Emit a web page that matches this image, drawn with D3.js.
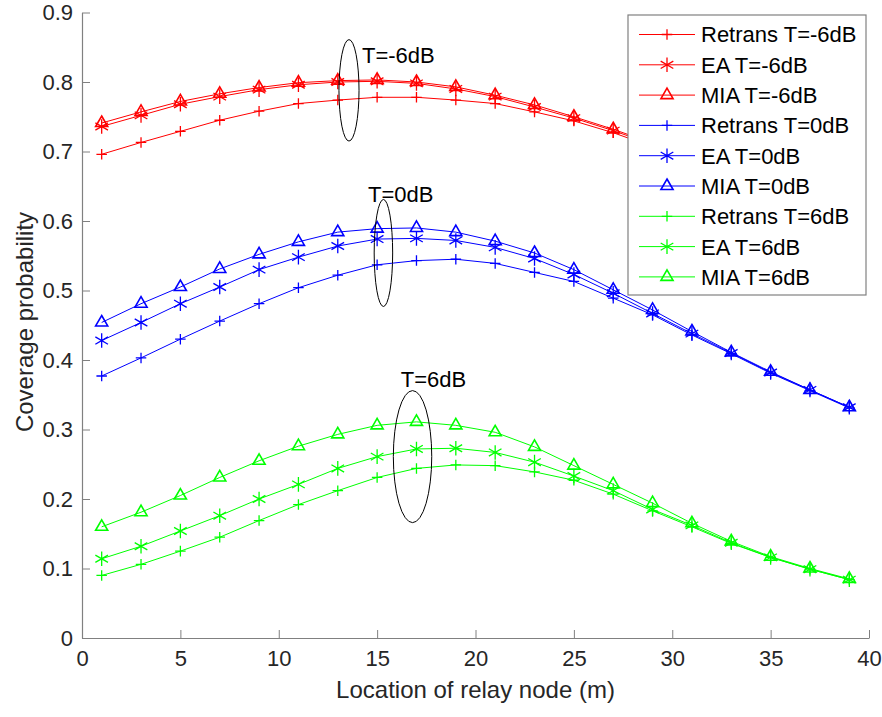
<!DOCTYPE html>
<html>
<head>
<meta charset="utf-8">
<script src="https://cdn.jsdelivr.net/npm/d3@7"></script>
<style>
  body { margin: 0; background: #fff; }
  text { font-family: Arial, "Liberation Sans", Helvetica, sans-serif; }
</style>
</head>
<body>
<svg id="chart" width="882" height="717"></svg>
<script>
// relay locations (m)
const relayX = [1, 3, 5, 7, 9, 11, 13, 15, 17, 19, 21, 23, 25, 27, 29, 31, 33, 35, 37, 39];

// T = -6dB
const retransM6 = [0.696, 0.713, 0.729, 0.745, 0.758, 0.769, 0.774, 0.778, 0.778, 0.774, 0.769, 0.757, 0.744, 0.727, 0.707, 0.685, 0.660, 0.634, 0.607, 0.580];
const eaM6 = [0.736, 0.752, 0.768, 0.779, 0.789, 0.796, 0.800, 0.801, 0.798, 0.790, 0.779, 0.764, 0.748, 0.730, 0.710, 0.688, 0.664, 0.638, 0.611, 0.584];
const miaM6 = [0.741, 0.757, 0.772, 0.783, 0.792, 0.799, 0.802, 0.803, 0.800, 0.793, 0.781, 0.767, 0.750, 0.732, 0.712, 0.690, 0.666, 0.640, 0.613, 0.585];

// T = 0dB
const retrans0 = [0.377, 0.403, 0.430, 0.456, 0.481, 0.504, 0.522, 0.537, 0.543, 0.545, 0.539, 0.526, 0.513, 0.489, 0.465, 0.436, 0.409, 0.381, 0.356, 0.331];
const ea0 = [0.428, 0.454, 0.481, 0.505, 0.530, 0.548, 0.564, 0.574, 0.575, 0.572, 0.562, 0.546, 0.523, 0.496, 0.467, 0.438, 0.410, 0.382, 0.357, 0.332];
const mia0 = [0.454, 0.481, 0.505, 0.531, 0.552, 0.570, 0.584, 0.589, 0.590, 0.584, 0.571, 0.554, 0.530, 0.501, 0.472, 0.441, 0.411, 0.383, 0.357, 0.332];

// T = 6dB
const retrans6 = [0.090, 0.106, 0.125, 0.145, 0.169, 0.192, 0.212, 0.231, 0.244, 0.249, 0.248, 0.239, 0.227, 0.207, 0.183, 0.160, 0.136, 0.116, 0.099, 0.084];
const ea6 = [0.114, 0.132, 0.154, 0.176, 0.200, 0.221, 0.244, 0.261, 0.272, 0.273, 0.267, 0.253, 0.233, 0.212, 0.185, 0.162, 0.137, 0.116, 0.099, 0.084];
const mia6 = [0.160, 0.181, 0.205, 0.231, 0.255, 0.276, 0.293, 0.306, 0.311, 0.306, 0.296, 0.275, 0.248, 0.221, 0.194, 0.165, 0.139, 0.117, 0.100, 0.085];

const seriesNames = ['Retrans T=-6dB', 'EA T=-6dB', 'MIA T=-6dB', 'Retrans T=0dB', 'EA T=0dB', 'MIA T=0dB', 'Retrans T=6dB', 'EA T=6dB', 'MIA T=6dB'];
const seriesValues = [retransM6, eaM6, miaM6, retrans0, ea0, mia0, retrans6, ea6, mia6];

const xTicks = [0, 5, 10, 15, 20, 25, 30, 35, 40];
const yTicks = [0, 0.1, 0.2, 0.3, 0.4, 0.5, 0.6, 0.7, 0.8, 0.9];

// callout ellipses (data units): label, cx, cy, rx, ry, text x, text y
const callouts = [
  ['T=-6dB', 13.57, 0.788, 0.51, 0.073, 14.23, 0.827],
  ['T=0dB', 15.32, 0.554, 0.47, 0.077, 14.54, 0.627],
  ['T=6dB', 16.8, 0.261, 0.976, 0.095, 16.2, 0.361]
];

const colors = ['#ff0000', '#ff0000', '#ff0000', '#0000ff', '#0000ff', '#0000ff', '#00ff00', '#00ff00', '#00ff00'];
const shapes = [d3.symbolPlus, d3.symbolAsterisk, d3.symbolTriangle2];
const shapeSize = [38, 150, 105];

const svg = d3.select('#chart');
const x = d3.scaleLinear().domain([0, 40]).range([82, 869]);
const y = d3.scaleLinear().domain([0, 0.9]).range([638, 12.5]);
const axisColor = '#808080';
const textColor = '#262626';

// axes
const xAxis = svg.append('g')
  .attr('transform', `translate(0,${y(0)})`)
  .call(d3.axisBottom(x).tickValues(xTicks).tickSizeInner(-8).tickSizeOuter(0).tickPadding(12));
const yAxis = svg.append('g')
  .attr('transform', `translate(${x(0)},0)`)
  .call(d3.axisLeft(y).tickValues(yTicks).tickSizeInner(-8).tickSizeOuter(0).tickPadding(9)
    .tickFormat(d => (d === 0 ? '0' : d3.format('.1f')(d))));

[xAxis, yAxis].forEach(g => {
  g.select('.domain').attr('stroke', axisColor).attr('stroke-width', 1.2);
  g.selectAll('.tick line').attr('stroke', axisColor);
  g.selectAll('.tick text').attr('fill', textColor).style('font-size', '22px');
});

svg.append('text')
  .attr('x', (x(0) + x(40)) / 2)
  .attr('y', 698)
  .attr('text-anchor', 'middle')
  .attr('fill', textColor)
  .style('font-size', '24px')
  .text('Location of relay node (m)');

svg.append('text')
  .attr('transform', 'translate(33,322) rotate(-90)')
  .attr('text-anchor', 'middle')
  .attr('fill', textColor)
  .style('font-size', '24px')
  .text('Coverage probability');

// series
const line = d3.line().x((d, i) => x(relayX[i])).y(d => y(d));

seriesValues.forEach((vals, k) => {
  const g = svg.append('g');
  g.append('path')
    .attr('d', line(vals))
    .attr('fill', 'none')
    .attr('stroke', colors[k])
    .attr('stroke-width', 1);
  g.selectAll('path.m')
    .data(vals)
    .enter()
    .append('path')
    .attr('class', 'm')
    .attr('transform', (d, i) => `translate(${x(relayX[i])},${y(d)})`)
    .attr('d', d3.symbol(shapes[k % 3], shapeSize[k % 3]))
    .attr('fill', 'none')
    .attr('stroke', colors[k])
    .attr('stroke-width', k % 3 === 2 ? 1.6 : 1.3);
});

// callouts
callouts.forEach(([label, cx, cy, rx, ry, tx, ty]) => {
  svg.append('ellipse')
    .attr('cx', x(cx))
    .attr('cy', y(cy))
    .attr('rx', x(rx) - x(0))
    .attr('ry', y(0) - y(ry))
    .attr('fill', 'none')
    .attr('stroke', '#000')
    .attr('stroke-width', 1);
  svg.append('text')
    .attr('x', x(tx))
    .attr('y', y(ty))
    .attr('fill', '#000')
    .style('font-size', '22px')
    .text(label);
});

// legend
const legend = svg.append('g');
legend.append('rect')
  .attr('x', 628)
  .attr('y', 15)
  .attr('width', 238)
  .attr('height', 280)
  .attr('fill', '#fff')
  .attr('stroke', axisColor)
  .attr('stroke-width', 1.2);

const rowY = i => 34.5 + i * 30.3;
seriesNames.forEach((name, k) => {
  const row = legend.append('g').attr('transform', `translate(0,${rowY(k)})`);
  row.append('line')
    .attr('x1', 639).attr('x2', 695)
    .attr('stroke', colors[k]).attr('stroke-width', 1);
  row.append('path')
    .attr('transform', 'translate(667,0)')
    .attr('d', d3.symbol(shapes[k % 3], shapeSize[k % 3]))
    .attr('fill', 'none')
    .attr('stroke', colors[k])
    .attr('stroke-width', k % 3 === 2 ? 1.6 : 1.3);
  row.append('text')
    .attr('x', 701)
    .attr('dy', '0.36em')
    .attr('fill', '#000')
    .style('font-size', '22px')
    .text(name);
});
</script>
</body>
</html>
